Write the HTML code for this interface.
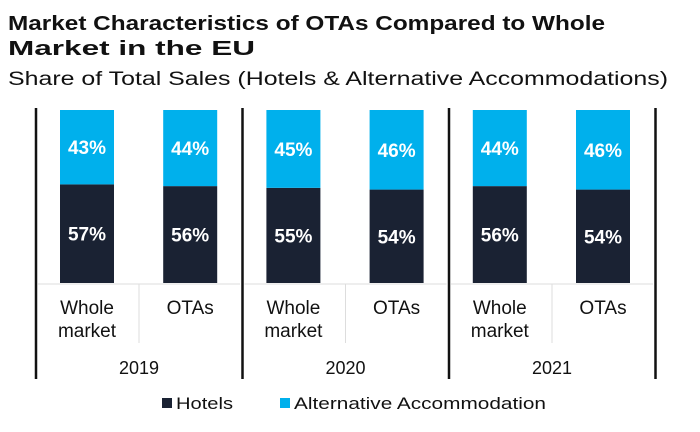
<!DOCTYPE html>
<html><head><meta charset="utf-8"><style>
body{margin:0;background:#fff;width:700px;height:427px;overflow:hidden;font-family:"Liberation Sans",sans-serif;}
</style></head><body>
<svg width="700" height="427" xmlns="http://www.w3.org/2000/svg" font-family="Liberation Sans, sans-serif">
<text x="8" y="30" font-size="20" font-weight="bold" fill="#111" textLength="597" lengthAdjust="spacingAndGlyphs">Market Characteristics of OTAs Compared to Whole</text>
<text x="8" y="55" font-size="20" font-weight="bold" fill="#111" textLength="247" lengthAdjust="spacingAndGlyphs">Market in the EU</text>
<text x="8" y="85" font-size="19" fill="#111" textLength="660" lengthAdjust="spacingAndGlyphs">Share of Total Sales (Hotels &amp; Alternative Accommodations)</text>
<g id="g"></g>
<rect x="162" y="398" width="10" height="10" fill="#1a2233"/>
<text x="176" y="409" font-size="17" fill="#111" textLength="57" lengthAdjust="spacingAndGlyphs">Hotels</text>
<rect x="280" y="398" width="10" height="10" fill="#00b0ec"/>
<text x="294" y="409" font-size="17" fill="#111" textLength="252" lengthAdjust="spacingAndGlyphs">Alternative Accommodation</text>
</svg>
<script>
const years=["2019","2020","2021"];
const cats=["Whole market","OTAs","Whole market","OTAs","Whole market","OTAs"];
const hotels=[57,56,55,54,56,54];
const alt=[43,44,45,46,44,46];
const g=document.getElementById('g');
const NS="http://www.w3.org/2000/svg";
const top0=110,bot=283,H=bot-top0,bw=54;
const yS=v=>v/100*H;
function mk(t,a,txt){const e=document.createElementNS(NS,t);for(const k in a)e.setAttribute(k,a[k]);if(txt!=null)e.textContent=txt;g.appendChild(e);return e;}
for(let i=0;i<years.length;i++){
  const x0=36+i*206.5;
  let l=mk('line',{x1:x0+2,x2:x0+204,y1:284,y2:284,stroke:'#ddd','stroke-width':1});
  
  
  l=mk('line',{x1:x0+103,x2:x0+103,y1:284,y2:343,stroke:'#ddd','stroke-width':1});
  
  
  const t=mk('text',{x:x0+103,y:374,'font-size':18,'text-anchor':'middle',fill:'#111'},years[i]);
  
  
}
for(let i=0;i<=years.length;i++){
  const x=36+i*206.5;
  const l=mk('line',{x1:x,x2:x,y1:108,y2:379,stroke:'#111','stroke-width':2.5});
  
  
}
cats.forEach((c,i)=>{
  const cx=87+i*103.2;
  const hh=yS(hotels[i]),ah=yS(alt[i]);
  let r=mk('rect',{x:cx-bw/2,y:bot-hh,width:bw,height:hh,fill:'#1a2233'});
  
  
  r=mk('rect',{x:cx-bw/2,y:bot-hh-ah,width:bw,height:ah,fill:'#00b0ec'});
  
  
  let t=mk('text',{x:cx,y:bot-hh/2+7,'font-size':19,'font-weight':'bold','text-anchor':'middle',fill:'#fff'},hotels[i]+'%');
  
  
  t=mk('text',{x:cx,y:bot-hh-ah/2+7,'font-size':19,'font-weight':'bold','text-anchor':'middle',fill:'#fff'},alt[i]+'%');
  
  
  const w=c.split(' ');
  w.forEach((s,k)=>{
    const tt=mk('text',{x:cx,y:314+k*23,'font-size':19,'text-anchor':'middle',fill:'#111'},s);
    
    
  });
});
</script>
</body></html>
